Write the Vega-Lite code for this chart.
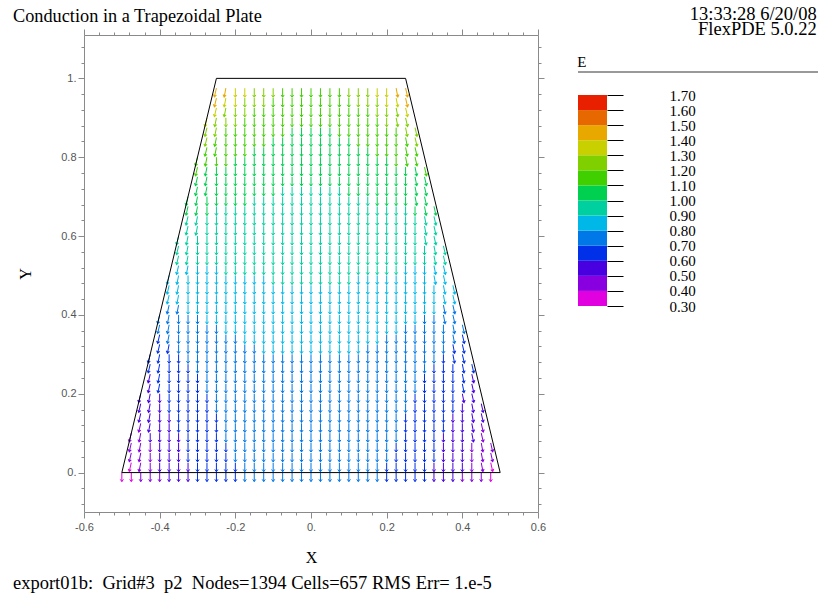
{
"$schema":"https://vega.github.io/schema/vega-lite/v6.json",
"background":"white",
"padding":{"left":12,"top":4,"right":2,"bottom":2},
"autosize":{"type":"pad"},
"config":{"view":{"stroke":null},"axis":{"domain":false,"grid":false,"tickColor":"#8a8a8a","labelColor":"#555555","labelFont":"Liberation Sans","labelFontSize":11,"titleFont":"Liberation Serif","titleFontSize":16,"titleFontWeight":"normal","titleColor":"black","labelOverlap":false,"labelFlush":false,"labelBound":false},"title":{"font":"Liberation Serif","fontWeight":"normal","color":"black"}},
"title":{"text":"export01b:\u00a0 Grid#3\u00a0 p2\u00a0 Nodes=1394 Cells=657 RMS Err= 1.e-5","orient":"bottom","anchor":"start","frame":"group","dx":-71,"offset":8,"fontSize":18.5,"baseline":"top"},
"bounds":"flush",
"spacing":40,
"hconcat":[
{"width":454,"height":477,"view":{"stroke":"#8a8a8a"},
"title":{"text":"Conduction in a Trapezoidal Plate","anchor":"start","frame":"group","dx":-71,"offset":-12,"fontSize":18.3,"baseline":"alphabetic"},
"layer":[
{"data":{"values":[
{"x":-0.5,"y":0,"e":0.35},{"x":-0.475,"y":0,"e":0.35},{"x":-0.45,"y":0,"e":0.45},{"x":-0.425,"y":0,"e":0.45},{"x":-0.4,"y":0,"e":0.45},{"x":-0.375,"y":0,"e":0.55},{"x":-0.35,"y":0,"e":0.55},{"x":-0.325,"y":0,"e":0.55},{"x":-0.3,"y":0,"e":0.65},{"x":-0.275,"y":0,"e":0.65},{"x":-0.25,"y":0,"e":0.65},{"x":-0.225,"y":0,"e":0.65},{"x":-0.2,"y":0,"e":0.65},{"x":-0.175,"y":0,"e":0.75},{"x":-0.15,"y":0,"e":0.75},{"x":-0.125,"y":0,"e":0.75},{"x":-0.1,"y":0,"e":0.75},{"x":-0.075,"y":0,"e":0.75},{"x":-0.05,"y":0,"e":0.75},{"x":-0.025,"y":0,"e":0.75},{"x":0,"y":0,"e":0.75},{"x":0.025,"y":0,"e":0.75},{"x":0.05,"y":0,"e":0.75},{"x":0.075,"y":0,"e":0.75},{"x":0.1,"y":0,"e":0.75},{"x":0.125,"y":0,"e":0.75},{"x":0.15,"y":0,"e":0.75},{"x":0.175,"y":0,"e":0.75},{"x":0.2,"y":0,"e":0.65},{"x":0.225,"y":0,"e":0.65},{"x":0.25,"y":0,"e":0.65},{"x":0.275,"y":0,"e":0.65},{"x":0.3,"y":0,"e":0.65},{"x":0.325,"y":0,"e":0.55},{"x":0.35,"y":0,"e":0.55},{"x":0.375,"y":0,"e":0.55},{"x":0.4,"y":0,"e":0.45},{"x":0.425,"y":0,"e":0.45},{"x":0.45,"y":0,"e":0.45},{"x":0.475,"y":0,"e":0.35},
{"x":-0.425,"y":0.025,"e":0.45},{"x":-0.4,"y":0.025,"e":0.55},{"x":-0.375,"y":0.025,"e":0.55},{"x":-0.35,"y":0.025,"e":0.55},{"x":-0.325,"y":0.025,"e":0.55},{"x":-0.3,"y":0.025,"e":0.65},{"x":-0.275,"y":0.025,"e":0.65},{"x":-0.25,"y":0.025,"e":0.65},{"x":-0.225,"y":0.025,"e":0.65},{"x":-0.2,"y":0.025,"e":0.65},{"x":-0.175,"y":0.025,"e":0.75},{"x":-0.15,"y":0.025,"e":0.75},{"x":-0.125,"y":0.025,"e":0.75},{"x":-0.1,"y":0.025,"e":0.75},{"x":-0.075,"y":0.025,"e":0.75},{"x":-0.05,"y":0.025,"e":0.75},{"x":-0.025,"y":0.025,"e":0.75},{"x":0,"y":0.025,"e":0.75},{"x":0.025,"y":0.025,"e":0.75},{"x":0.05,"y":0.025,"e":0.75},{"x":0.075,"y":0.025,"e":0.75},{"x":0.1,"y":0.025,"e":0.75},{"x":0.125,"y":0.025,"e":0.75},{"x":0.15,"y":0.025,"e":0.75},{"x":0.175,"y":0.025,"e":0.75},{"x":0.2,"y":0.025,"e":0.65},{"x":0.225,"y":0.025,"e":0.65},{"x":0.25,"y":0.025,"e":0.65},{"x":0.275,"y":0.025,"e":0.65},{"x":0.3,"y":0.025,"e":0.65},{"x":0.325,"y":0.025,"e":0.55},{"x":0.35,"y":0.025,"e":0.55},{"x":0.375,"y":0.025,"e":0.55},{"x":0.4,"y":0.025,"e":0.55},{"x":0.425,"y":0.025,"e":0.45},
{"x":-0.425,"y":0.05,"e":0.45},{"x":-0.4,"y":0.05,"e":0.55},{"x":-0.375,"y":0.05,"e":0.55},{"x":-0.35,"y":0.05,"e":0.55},{"x":-0.325,"y":0.05,"e":0.65},{"x":-0.3,"y":0.05,"e":0.65},{"x":-0.275,"y":0.05,"e":0.65},{"x":-0.25,"y":0.05,"e":0.65},{"x":-0.225,"y":0.05,"e":0.65},{"x":-0.2,"y":0.05,"e":0.75},{"x":-0.175,"y":0.05,"e":0.75},{"x":-0.15,"y":0.05,"e":0.75},{"x":-0.125,"y":0.05,"e":0.75},{"x":-0.1,"y":0.05,"e":0.75},{"x":-0.075,"y":0.05,"e":0.75},{"x":-0.05,"y":0.05,"e":0.75},{"x":-0.025,"y":0.05,"e":0.75},{"x":0,"y":0.05,"e":0.75},{"x":0.025,"y":0.05,"e":0.75},{"x":0.05,"y":0.05,"e":0.75},{"x":0.075,"y":0.05,"e":0.75},{"x":0.1,"y":0.05,"e":0.75},{"x":0.125,"y":0.05,"e":0.75},{"x":0.15,"y":0.05,"e":0.75},{"x":0.175,"y":0.05,"e":0.75},{"x":0.2,"y":0.05,"e":0.75},{"x":0.225,"y":0.05,"e":0.65},{"x":0.25,"y":0.05,"e":0.65},{"x":0.275,"y":0.05,"e":0.65},{"x":0.3,"y":0.05,"e":0.65},{"x":0.325,"y":0.05,"e":0.65},{"x":0.35,"y":0.05,"e":0.55},{"x":0.375,"y":0.05,"e":0.55},{"x":0.4,"y":0.05,"e":0.55},{"x":0.425,"y":0.05,"e":0.45},
{"x":-0.425,"y":0.075,"e":0.45},{"x":-0.4,"y":0.075,"e":0.55},{"x":-0.375,"y":0.075,"e":0.55},{"x":-0.35,"y":0.075,"e":0.55},{"x":-0.325,"y":0.075,"e":0.65},{"x":-0.3,"y":0.075,"e":0.65},{"x":-0.275,"y":0.075,"e":0.65},{"x":-0.25,"y":0.075,"e":0.65},{"x":-0.225,"y":0.075,"e":0.65},{"x":-0.2,"y":0.075,"e":0.75},{"x":-0.175,"y":0.075,"e":0.75},{"x":-0.15,"y":0.075,"e":0.75},{"x":-0.125,"y":0.075,"e":0.75},{"x":-0.1,"y":0.075,"e":0.75},{"x":-0.075,"y":0.075,"e":0.75},{"x":-0.05,"y":0.075,"e":0.75},{"x":-0.025,"y":0.075,"e":0.75},{"x":0,"y":0.075,"e":0.75},{"x":0.025,"y":0.075,"e":0.75},{"x":0.05,"y":0.075,"e":0.75},{"x":0.075,"y":0.075,"e":0.75},{"x":0.1,"y":0.075,"e":0.75},{"x":0.125,"y":0.075,"e":0.75},{"x":0.15,"y":0.075,"e":0.75},{"x":0.175,"y":0.075,"e":0.75},{"x":0.2,"y":0.075,"e":0.75},{"x":0.225,"y":0.075,"e":0.65},{"x":0.25,"y":0.075,"e":0.65},{"x":0.275,"y":0.075,"e":0.65},{"x":0.3,"y":0.075,"e":0.65},{"x":0.325,"y":0.075,"e":0.65},{"x":0.35,"y":0.075,"e":0.55},{"x":0.375,"y":0.075,"e":0.55},{"x":0.4,"y":0.075,"e":0.55},{"x":0.425,"y":0.075,"e":0.45},
{"x":-0.425,"y":0.1,"e":0.55},{"x":-0.4,"y":0.1,"e":0.55},{"x":-0.375,"y":0.1,"e":0.55},{"x":-0.35,"y":0.1,"e":0.55},{"x":-0.325,"y":0.1,"e":0.65},{"x":-0.3,"y":0.1,"e":0.65},{"x":-0.275,"y":0.1,"e":0.65},{"x":-0.25,"y":0.1,"e":0.65},{"x":-0.225,"y":0.1,"e":0.75},{"x":-0.2,"y":0.1,"e":0.75},{"x":-0.175,"y":0.1,"e":0.75},{"x":-0.15,"y":0.1,"e":0.75},{"x":-0.125,"y":0.1,"e":0.75},{"x":-0.1,"y":0.1,"e":0.75},{"x":-0.075,"y":0.1,"e":0.75},{"x":-0.05,"y":0.1,"e":0.75},{"x":-0.025,"y":0.1,"e":0.75},{"x":0,"y":0.1,"e":0.75},{"x":0.025,"y":0.1,"e":0.75},{"x":0.05,"y":0.1,"e":0.75},{"x":0.075,"y":0.1,"e":0.75},{"x":0.1,"y":0.1,"e":0.75},{"x":0.125,"y":0.1,"e":0.75},{"x":0.15,"y":0.1,"e":0.75},{"x":0.175,"y":0.1,"e":0.75},{"x":0.2,"y":0.1,"e":0.75},{"x":0.225,"y":0.1,"e":0.75},{"x":0.25,"y":0.1,"e":0.65},{"x":0.275,"y":0.1,"e":0.65},{"x":0.3,"y":0.1,"e":0.65},{"x":0.325,"y":0.1,"e":0.65},{"x":0.35,"y":0.1,"e":0.55},{"x":0.375,"y":0.1,"e":0.55},{"x":0.4,"y":0.1,"e":0.55},
{"x":-0.4,"y":0.125,"e":0.55},{"x":-0.375,"y":0.125,"e":0.55},{"x":-0.35,"y":0.125,"e":0.65},{"x":-0.325,"y":0.125,"e":0.65},{"x":-0.3,"y":0.125,"e":0.65},{"x":-0.275,"y":0.125,"e":0.65},{"x":-0.25,"y":0.125,"e":0.65},{"x":-0.225,"y":0.125,"e":0.75},{"x":-0.2,"y":0.125,"e":0.75},{"x":-0.175,"y":0.125,"e":0.75},{"x":-0.15,"y":0.125,"e":0.75},{"x":-0.125,"y":0.125,"e":0.75},{"x":-0.1,"y":0.125,"e":0.75},{"x":-0.075,"y":0.125,"e":0.75},{"x":-0.05,"y":0.125,"e":0.75},{"x":-0.025,"y":0.125,"e":0.75},{"x":0,"y":0.125,"e":0.75},{"x":0.025,"y":0.125,"e":0.75},{"x":0.05,"y":0.125,"e":0.75},{"x":0.075,"y":0.125,"e":0.75},{"x":0.1,"y":0.125,"e":0.75},{"x":0.125,"y":0.125,"e":0.75},{"x":0.15,"y":0.125,"e":0.75},{"x":0.175,"y":0.125,"e":0.75},{"x":0.2,"y":0.125,"e":0.75},{"x":0.225,"y":0.125,"e":0.75},{"x":0.25,"y":0.125,"e":0.65},{"x":0.275,"y":0.125,"e":0.65},{"x":0.3,"y":0.125,"e":0.65},{"x":0.325,"y":0.125,"e":0.65},{"x":0.35,"y":0.125,"e":0.65},{"x":0.375,"y":0.125,"e":0.55},{"x":0.4,"y":0.125,"e":0.55},
{"x":-0.4,"y":0.15,"e":0.55},{"x":-0.375,"y":0.15,"e":0.55},{"x":-0.35,"y":0.15,"e":0.65},{"x":-0.325,"y":0.15,"e":0.65},{"x":-0.3,"y":0.15,"e":0.65},{"x":-0.275,"y":0.15,"e":0.65},{"x":-0.25,"y":0.15,"e":0.65},{"x":-0.225,"y":0.15,"e":0.75},{"x":-0.2,"y":0.15,"e":0.75},{"x":-0.175,"y":0.15,"e":0.75},{"x":-0.15,"y":0.15,"e":0.75},{"x":-0.125,"y":0.15,"e":0.75},{"x":-0.1,"y":0.15,"e":0.75},{"x":-0.075,"y":0.15,"e":0.75},{"x":-0.05,"y":0.15,"e":0.75},{"x":-0.025,"y":0.15,"e":0.75},{"x":0,"y":0.15,"e":0.75},{"x":0.025,"y":0.15,"e":0.75},{"x":0.05,"y":0.15,"e":0.75},{"x":0.075,"y":0.15,"e":0.75},{"x":0.1,"y":0.15,"e":0.75},{"x":0.125,"y":0.15,"e":0.75},{"x":0.15,"y":0.15,"e":0.75},{"x":0.175,"y":0.15,"e":0.75},{"x":0.2,"y":0.15,"e":0.75},{"x":0.225,"y":0.15,"e":0.75},{"x":0.25,"y":0.15,"e":0.65},{"x":0.275,"y":0.15,"e":0.65},{"x":0.3,"y":0.15,"e":0.65},{"x":0.325,"y":0.15,"e":0.65},{"x":0.35,"y":0.15,"e":0.65},{"x":0.375,"y":0.15,"e":0.55},{"x":0.4,"y":0.15,"e":0.55},
{"x":-0.4,"y":0.175,"e":0.55},{"x":-0.375,"y":0.175,"e":0.65},{"x":-0.35,"y":0.175,"e":0.65},{"x":-0.325,"y":0.175,"e":0.65},{"x":-0.3,"y":0.175,"e":0.65},{"x":-0.275,"y":0.175,"e":0.65},{"x":-0.25,"y":0.175,"e":0.75},{"x":-0.225,"y":0.175,"e":0.75},{"x":-0.2,"y":0.175,"e":0.75},{"x":-0.175,"y":0.175,"e":0.75},{"x":-0.15,"y":0.175,"e":0.75},{"x":-0.125,"y":0.175,"e":0.75},{"x":-0.1,"y":0.175,"e":0.75},{"x":-0.075,"y":0.175,"e":0.75},{"x":-0.05,"y":0.175,"e":0.75},{"x":-0.025,"y":0.175,"e":0.75},{"x":0,"y":0.175,"e":0.75},{"x":0.025,"y":0.175,"e":0.75},{"x":0.05,"y":0.175,"e":0.75},{"x":0.075,"y":0.175,"e":0.75},{"x":0.1,"y":0.175,"e":0.75},{"x":0.125,"y":0.175,"e":0.75},{"x":0.15,"y":0.175,"e":0.75},{"x":0.175,"y":0.175,"e":0.75},{"x":0.2,"y":0.175,"e":0.75},{"x":0.225,"y":0.175,"e":0.75},{"x":0.25,"y":0.175,"e":0.75},{"x":0.275,"y":0.175,"e":0.65},{"x":0.3,"y":0.175,"e":0.65},{"x":0.325,"y":0.175,"e":0.65},{"x":0.35,"y":0.175,"e":0.65},{"x":0.375,"y":0.175,"e":0.65},{"x":0.4,"y":0.175,"e":0.55},
{"x":-0.4,"y":0.2,"e":0.55},{"x":-0.375,"y":0.2,"e":0.65},{"x":-0.35,"y":0.2,"e":0.65},{"x":-0.325,"y":0.2,"e":0.65},{"x":-0.3,"y":0.2,"e":0.65},{"x":-0.275,"y":0.2,"e":0.65},{"x":-0.25,"y":0.2,"e":0.75},{"x":-0.225,"y":0.2,"e":0.75},{"x":-0.2,"y":0.2,"e":0.75},{"x":-0.175,"y":0.2,"e":0.75},{"x":-0.15,"y":0.2,"e":0.75},{"x":-0.125,"y":0.2,"e":0.75},{"x":-0.1,"y":0.2,"e":0.75},{"x":-0.075,"y":0.2,"e":0.75},{"x":-0.05,"y":0.2,"e":0.75},{"x":-0.025,"y":0.2,"e":0.75},{"x":0,"y":0.2,"e":0.75},{"x":0.025,"y":0.2,"e":0.75},{"x":0.05,"y":0.2,"e":0.75},{"x":0.075,"y":0.2,"e":0.75},{"x":0.1,"y":0.2,"e":0.75},{"x":0.125,"y":0.2,"e":0.75},{"x":0.15,"y":0.2,"e":0.75},{"x":0.175,"y":0.2,"e":0.75},{"x":0.2,"y":0.2,"e":0.75},{"x":0.225,"y":0.2,"e":0.75},{"x":0.25,"y":0.2,"e":0.75},{"x":0.275,"y":0.2,"e":0.65},{"x":0.3,"y":0.2,"e":0.65},{"x":0.325,"y":0.2,"e":0.65},{"x":0.35,"y":0.2,"e":0.65},{"x":0.375,"y":0.2,"e":0.65},
{"x":-0.375,"y":0.225,"e":0.65},{"x":-0.35,"y":0.225,"e":0.65},{"x":-0.325,"y":0.225,"e":0.65},{"x":-0.3,"y":0.225,"e":0.65},{"x":-0.275,"y":0.225,"e":0.75},{"x":-0.25,"y":0.225,"e":0.75},{"x":-0.225,"y":0.225,"e":0.75},{"x":-0.2,"y":0.225,"e":0.75},{"x":-0.175,"y":0.225,"e":0.75},{"x":-0.15,"y":0.225,"e":0.75},{"x":-0.125,"y":0.225,"e":0.75},{"x":-0.1,"y":0.225,"e":0.75},{"x":-0.075,"y":0.225,"e":0.75},{"x":-0.05,"y":0.225,"e":0.75},{"x":-0.025,"y":0.225,"e":0.75},{"x":0,"y":0.225,"e":0.75},{"x":0.025,"y":0.225,"e":0.75},{"x":0.05,"y":0.225,"e":0.75},{"x":0.075,"y":0.225,"e":0.75},{"x":0.1,"y":0.225,"e":0.75},{"x":0.125,"y":0.225,"e":0.75},{"x":0.15,"y":0.225,"e":0.75},{"x":0.175,"y":0.225,"e":0.75},{"x":0.2,"y":0.225,"e":0.75},{"x":0.225,"y":0.225,"e":0.75},{"x":0.25,"y":0.225,"e":0.75},{"x":0.275,"y":0.225,"e":0.75},{"x":0.3,"y":0.225,"e":0.65},{"x":0.325,"y":0.225,"e":0.65},{"x":0.35,"y":0.225,"e":0.65},{"x":0.375,"y":0.225,"e":0.65},
{"x":-0.375,"y":0.25,"e":0.65},{"x":-0.35,"y":0.25,"e":0.65},{"x":-0.325,"y":0.25,"e":0.65},{"x":-0.3,"y":0.25,"e":0.65},{"x":-0.275,"y":0.25,"e":0.75},{"x":-0.25,"y":0.25,"e":0.75},{"x":-0.225,"y":0.25,"e":0.75},{"x":-0.2,"y":0.25,"e":0.75},{"x":-0.175,"y":0.25,"e":0.75},{"x":-0.15,"y":0.25,"e":0.75},{"x":-0.125,"y":0.25,"e":0.75},{"x":-0.1,"y":0.25,"e":0.75},{"x":-0.075,"y":0.25,"e":0.75},{"x":-0.05,"y":0.25,"e":0.75},{"x":-0.025,"y":0.25,"e":0.75},{"x":0,"y":0.25,"e":0.75},{"x":0.025,"y":0.25,"e":0.75},{"x":0.05,"y":0.25,"e":0.75},{"x":0.075,"y":0.25,"e":0.75},{"x":0.1,"y":0.25,"e":0.75},{"x":0.125,"y":0.25,"e":0.75},{"x":0.15,"y":0.25,"e":0.75},{"x":0.175,"y":0.25,"e":0.75},{"x":0.2,"y":0.25,"e":0.75},{"x":0.225,"y":0.25,"e":0.75},{"x":0.25,"y":0.25,"e":0.75},{"x":0.275,"y":0.25,"e":0.75},{"x":0.3,"y":0.25,"e":0.65},{"x":0.325,"y":0.25,"e":0.65},{"x":0.35,"y":0.25,"e":0.65},{"x":0.375,"y":0.25,"e":0.65},
{"x":-0.375,"y":0.275,"e":0.65},{"x":-0.35,"y":0.275,"e":0.65},{"x":-0.325,"y":0.275,"e":0.65},{"x":-0.3,"y":0.275,"e":0.75},{"x":-0.275,"y":0.275,"e":0.75},{"x":-0.25,"y":0.275,"e":0.75},{"x":-0.225,"y":0.275,"e":0.75},{"x":-0.2,"y":0.275,"e":0.75},{"x":-0.175,"y":0.275,"e":0.75},{"x":-0.15,"y":0.275,"e":0.75},{"x":-0.125,"y":0.275,"e":0.75},{"x":-0.1,"y":0.275,"e":0.75},{"x":-0.075,"y":0.275,"e":0.75},{"x":-0.05,"y":0.275,"e":0.75},{"x":-0.025,"y":0.275,"e":0.75},{"x":0,"y":0.275,"e":0.75},{"x":0.025,"y":0.275,"e":0.75},{"x":0.05,"y":0.275,"e":0.75},{"x":0.075,"y":0.275,"e":0.75},{"x":0.1,"y":0.275,"e":0.75},{"x":0.125,"y":0.275,"e":0.75},{"x":0.15,"y":0.275,"e":0.75},{"x":0.175,"y":0.275,"e":0.75},{"x":0.2,"y":0.275,"e":0.75},{"x":0.225,"y":0.275,"e":0.75},{"x":0.25,"y":0.275,"e":0.75},{"x":0.275,"y":0.275,"e":0.75},{"x":0.3,"y":0.275,"e":0.75},{"x":0.325,"y":0.275,"e":0.65},{"x":0.35,"y":0.275,"e":0.65},{"x":0.375,"y":0.275,"e":0.65},
{"x":-0.375,"y":0.3,"e":0.65},{"x":-0.35,"y":0.3,"e":0.65},{"x":-0.325,"y":0.3,"e":0.75},{"x":-0.3,"y":0.3,"e":0.75},{"x":-0.275,"y":0.3,"e":0.75},{"x":-0.25,"y":0.3,"e":0.75},{"x":-0.225,"y":0.3,"e":0.75},{"x":-0.2,"y":0.3,"e":0.75},{"x":-0.175,"y":0.3,"e":0.75},{"x":-0.15,"y":0.3,"e":0.75},{"x":-0.125,"y":0.3,"e":0.75},{"x":-0.1,"y":0.3,"e":0.75},{"x":-0.075,"y":0.3,"e":0.75},{"x":-0.05,"y":0.3,"e":0.75},{"x":-0.025,"y":0.3,"e":0.75},{"x":0,"y":0.3,"e":0.75},{"x":0.025,"y":0.3,"e":0.75},{"x":0.05,"y":0.3,"e":0.75},{"x":0.075,"y":0.3,"e":0.75},{"x":0.1,"y":0.3,"e":0.75},{"x":0.125,"y":0.3,"e":0.75},{"x":0.15,"y":0.3,"e":0.75},{"x":0.175,"y":0.3,"e":0.75},{"x":0.2,"y":0.3,"e":0.75},{"x":0.225,"y":0.3,"e":0.75},{"x":0.25,"y":0.3,"e":0.75},{"x":0.275,"y":0.3,"e":0.75},{"x":0.3,"y":0.3,"e":0.75},{"x":0.325,"y":0.3,"e":0.75},{"x":0.35,"y":0.3,"e":0.65},
{"x":-0.35,"y":0.325,"e":0.75},{"x":-0.325,"y":0.325,"e":0.75},{"x":-0.3,"y":0.325,"e":0.75},{"x":-0.275,"y":0.325,"e":0.75},{"x":-0.25,"y":0.325,"e":0.75},{"x":-0.225,"y":0.325,"e":0.75},{"x":-0.2,"y":0.325,"e":0.75},{"x":-0.175,"y":0.325,"e":0.75},{"x":-0.15,"y":0.325,"e":0.75},{"x":-0.125,"y":0.325,"e":0.85},{"x":-0.1,"y":0.325,"e":0.85},{"x":-0.075,"y":0.325,"e":0.85},{"x":-0.05,"y":0.325,"e":0.85},{"x":-0.025,"y":0.325,"e":0.85},{"x":0,"y":0.325,"e":0.85},{"x":0.025,"y":0.325,"e":0.85},{"x":0.05,"y":0.325,"e":0.85},{"x":0.075,"y":0.325,"e":0.85},{"x":0.1,"y":0.325,"e":0.85},{"x":0.125,"y":0.325,"e":0.85},{"x":0.15,"y":0.325,"e":0.75},{"x":0.175,"y":0.325,"e":0.75},{"x":0.2,"y":0.325,"e":0.75},{"x":0.225,"y":0.325,"e":0.75},{"x":0.25,"y":0.325,"e":0.75},{"x":0.275,"y":0.325,"e":0.75},{"x":0.3,"y":0.325,"e":0.75},{"x":0.325,"y":0.325,"e":0.75},{"x":0.35,"y":0.325,"e":0.75},
{"x":-0.35,"y":0.35,"e":0.75},{"x":-0.325,"y":0.35,"e":0.75},{"x":-0.3,"y":0.35,"e":0.75},{"x":-0.275,"y":0.35,"e":0.75},{"x":-0.25,"y":0.35,"e":0.75},{"x":-0.225,"y":0.35,"e":0.75},{"x":-0.2,"y":0.35,"e":0.75},{"x":-0.175,"y":0.35,"e":0.85},{"x":-0.15,"y":0.35,"e":0.85},{"x":-0.125,"y":0.35,"e":0.85},{"x":-0.1,"y":0.35,"e":0.85},{"x":-0.075,"y":0.35,"e":0.85},{"x":-0.05,"y":0.35,"e":0.85},{"x":-0.025,"y":0.35,"e":0.85},{"x":0,"y":0.35,"e":0.85},{"x":0.025,"y":0.35,"e":0.85},{"x":0.05,"y":0.35,"e":0.85},{"x":0.075,"y":0.35,"e":0.85},{"x":0.1,"y":0.35,"e":0.85},{"x":0.125,"y":0.35,"e":0.85},{"x":0.15,"y":0.35,"e":0.85},{"x":0.175,"y":0.35,"e":0.85},{"x":0.2,"y":0.35,"e":0.75},{"x":0.225,"y":0.35,"e":0.75},{"x":0.25,"y":0.35,"e":0.75},{"x":0.275,"y":0.35,"e":0.75},{"x":0.3,"y":0.35,"e":0.75},{"x":0.325,"y":0.35,"e":0.75},{"x":0.35,"y":0.35,"e":0.75},
{"x":-0.35,"y":0.375,"e":0.75},{"x":-0.325,"y":0.375,"e":0.75},{"x":-0.3,"y":0.375,"e":0.75},{"x":-0.275,"y":0.375,"e":0.75},{"x":-0.25,"y":0.375,"e":0.75},{"x":-0.225,"y":0.375,"e":0.85},{"x":-0.2,"y":0.375,"e":0.85},{"x":-0.175,"y":0.375,"e":0.85},{"x":-0.15,"y":0.375,"e":0.85},{"x":-0.125,"y":0.375,"e":0.85},{"x":-0.1,"y":0.375,"e":0.85},{"x":-0.075,"y":0.375,"e":0.85},{"x":-0.05,"y":0.375,"e":0.85},{"x":-0.025,"y":0.375,"e":0.85},{"x":0,"y":0.375,"e":0.85},{"x":0.025,"y":0.375,"e":0.85},{"x":0.05,"y":0.375,"e":0.85},{"x":0.075,"y":0.375,"e":0.85},{"x":0.1,"y":0.375,"e":0.85},{"x":0.125,"y":0.375,"e":0.85},{"x":0.15,"y":0.375,"e":0.85},{"x":0.175,"y":0.375,"e":0.85},{"x":0.2,"y":0.375,"e":0.85},{"x":0.225,"y":0.375,"e":0.85},{"x":0.25,"y":0.375,"e":0.75},{"x":0.275,"y":0.375,"e":0.75},{"x":0.3,"y":0.375,"e":0.75},{"x":0.325,"y":0.375,"e":0.75},{"x":0.35,"y":0.375,"e":0.75},
{"x":-0.35,"y":0.4,"e":0.75},{"x":-0.325,"y":0.4,"e":0.75},{"x":-0.3,"y":0.4,"e":0.75},{"x":-0.275,"y":0.4,"e":0.85},{"x":-0.25,"y":0.4,"e":0.85},{"x":-0.225,"y":0.4,"e":0.85},{"x":-0.2,"y":0.4,"e":0.85},{"x":-0.175,"y":0.4,"e":0.85},{"x":-0.15,"y":0.4,"e":0.85},{"x":-0.125,"y":0.4,"e":0.85},{"x":-0.1,"y":0.4,"e":0.85},{"x":-0.075,"y":0.4,"e":0.85},{"x":-0.05,"y":0.4,"e":0.85},{"x":-0.025,"y":0.4,"e":0.85},{"x":0,"y":0.4,"e":0.85},{"x":0.025,"y":0.4,"e":0.85},{"x":0.05,"y":0.4,"e":0.85},{"x":0.075,"y":0.4,"e":0.85},{"x":0.1,"y":0.4,"e":0.85},{"x":0.125,"y":0.4,"e":0.85},{"x":0.15,"y":0.4,"e":0.85},{"x":0.175,"y":0.4,"e":0.85},{"x":0.2,"y":0.4,"e":0.85},{"x":0.225,"y":0.4,"e":0.85},{"x":0.25,"y":0.4,"e":0.85},{"x":0.275,"y":0.4,"e":0.85},{"x":0.3,"y":0.4,"e":0.75},{"x":0.325,"y":0.4,"e":0.75},
{"x":-0.325,"y":0.425,"e":0.85},{"x":-0.3,"y":0.425,"e":0.85},{"x":-0.275,"y":0.425,"e":0.85},{"x":-0.25,"y":0.425,"e":0.85},{"x":-0.225,"y":0.425,"e":0.85},{"x":-0.2,"y":0.425,"e":0.85},{"x":-0.175,"y":0.425,"e":0.85},{"x":-0.15,"y":0.425,"e":0.85},{"x":-0.125,"y":0.425,"e":0.85},{"x":-0.1,"y":0.425,"e":0.85},{"x":-0.075,"y":0.425,"e":0.85},{"x":-0.05,"y":0.425,"e":0.85},{"x":-0.025,"y":0.425,"e":0.85},{"x":0,"y":0.425,"e":0.85},{"x":0.025,"y":0.425,"e":0.85},{"x":0.05,"y":0.425,"e":0.85},{"x":0.075,"y":0.425,"e":0.85},{"x":0.1,"y":0.425,"e":0.85},{"x":0.125,"y":0.425,"e":0.85},{"x":0.15,"y":0.425,"e":0.85},{"x":0.175,"y":0.425,"e":0.85},{"x":0.2,"y":0.425,"e":0.85},{"x":0.225,"y":0.425,"e":0.85},{"x":0.25,"y":0.425,"e":0.85},{"x":0.275,"y":0.425,"e":0.85},{"x":0.3,"y":0.425,"e":0.85},{"x":0.325,"y":0.425,"e":0.85},
{"x":-0.325,"y":0.45,"e":0.85},{"x":-0.3,"y":0.45,"e":0.85},{"x":-0.275,"y":0.45,"e":0.85},{"x":-0.25,"y":0.45,"e":0.85},{"x":-0.225,"y":0.45,"e":0.85},{"x":-0.2,"y":0.45,"e":0.85},{"x":-0.175,"y":0.45,"e":0.85},{"x":-0.15,"y":0.45,"e":0.85},{"x":-0.125,"y":0.45,"e":0.85},{"x":-0.1,"y":0.45,"e":0.85},{"x":-0.075,"y":0.45,"e":0.85},{"x":-0.05,"y":0.45,"e":0.85},{"x":-0.025,"y":0.45,"e":0.85},{"x":0,"y":0.45,"e":0.85},{"x":0.025,"y":0.45,"e":0.85},{"x":0.05,"y":0.45,"e":0.85},{"x":0.075,"y":0.45,"e":0.85},{"x":0.1,"y":0.45,"e":0.85},{"x":0.125,"y":0.45,"e":0.85},{"x":0.15,"y":0.45,"e":0.85},{"x":0.175,"y":0.45,"e":0.85},{"x":0.2,"y":0.45,"e":0.85},{"x":0.225,"y":0.45,"e":0.85},{"x":0.25,"y":0.45,"e":0.85},{"x":0.275,"y":0.45,"e":0.85},{"x":0.3,"y":0.45,"e":0.85},{"x":0.325,"y":0.45,"e":0.85},
{"x":-0.325,"y":0.475,"e":0.85},{"x":-0.3,"y":0.475,"e":0.85},{"x":-0.275,"y":0.475,"e":0.85},{"x":-0.25,"y":0.475,"e":0.85},{"x":-0.225,"y":0.475,"e":0.85},{"x":-0.2,"y":0.475,"e":0.85},{"x":-0.175,"y":0.475,"e":0.85},{"x":-0.15,"y":0.475,"e":0.85},{"x":-0.125,"y":0.475,"e":0.85},{"x":-0.1,"y":0.475,"e":0.85},{"x":-0.075,"y":0.475,"e":0.85},{"x":-0.05,"y":0.475,"e":0.85},{"x":-0.025,"y":0.475,"e":0.85},{"x":0,"y":0.475,"e":0.85},{"x":0.025,"y":0.475,"e":0.85},{"x":0.05,"y":0.475,"e":0.85},{"x":0.075,"y":0.475,"e":0.85},{"x":0.1,"y":0.475,"e":0.85},{"x":0.125,"y":0.475,"e":0.85},{"x":0.15,"y":0.475,"e":0.85},{"x":0.175,"y":0.475,"e":0.85},{"x":0.2,"y":0.475,"e":0.85},{"x":0.225,"y":0.475,"e":0.85},{"x":0.25,"y":0.475,"e":0.85},{"x":0.275,"y":0.475,"e":0.85},{"x":0.3,"y":0.475,"e":0.85},{"x":0.325,"y":0.475,"e":0.85},
{"x":-0.325,"y":0.5,"e":0.85},{"x":-0.3,"y":0.5,"e":0.85},{"x":-0.275,"y":0.5,"e":0.85},{"x":-0.25,"y":0.5,"e":0.85},{"x":-0.225,"y":0.5,"e":0.85},{"x":-0.2,"y":0.5,"e":0.85},{"x":-0.175,"y":0.5,"e":0.85},{"x":-0.15,"y":0.5,"e":0.85},{"x":-0.125,"y":0.5,"e":0.85},{"x":-0.1,"y":0.5,"e":0.95},{"x":-0.075,"y":0.5,"e":0.95},{"x":-0.05,"y":0.5,"e":0.95},{"x":-0.025,"y":0.5,"e":0.95},{"x":0,"y":0.5,"e":0.95},{"x":0.025,"y":0.5,"e":0.95},{"x":0.05,"y":0.5,"e":0.95},{"x":0.075,"y":0.5,"e":0.95},{"x":0.1,"y":0.5,"e":0.95},{"x":0.125,"y":0.5,"e":0.85},{"x":0.15,"y":0.5,"e":0.85},{"x":0.175,"y":0.5,"e":0.85},{"x":0.2,"y":0.5,"e":0.85},{"x":0.225,"y":0.5,"e":0.85},{"x":0.25,"y":0.5,"e":0.85},{"x":0.275,"y":0.5,"e":0.85},{"x":0.3,"y":0.5,"e":0.85},
{"x":-0.3,"y":0.525,"e":0.85},{"x":-0.275,"y":0.525,"e":0.85},{"x":-0.25,"y":0.525,"e":0.85},{"x":-0.225,"y":0.525,"e":0.95},{"x":-0.2,"y":0.525,"e":0.95},{"x":-0.175,"y":0.525,"e":0.95},{"x":-0.15,"y":0.525,"e":0.95},{"x":-0.125,"y":0.525,"e":0.95},{"x":-0.1,"y":0.525,"e":0.95},{"x":-0.075,"y":0.525,"e":0.95},{"x":-0.05,"y":0.525,"e":0.95},{"x":-0.025,"y":0.525,"e":0.95},{"x":0,"y":0.525,"e":0.95},{"x":0.025,"y":0.525,"e":0.95},{"x":0.05,"y":0.525,"e":0.95},{"x":0.075,"y":0.525,"e":0.95},{"x":0.1,"y":0.525,"e":0.95},{"x":0.125,"y":0.525,"e":0.95},{"x":0.15,"y":0.525,"e":0.95},{"x":0.175,"y":0.525,"e":0.95},{"x":0.2,"y":0.525,"e":0.95},{"x":0.225,"y":0.525,"e":0.95},{"x":0.25,"y":0.525,"e":0.85},{"x":0.275,"y":0.525,"e":0.85},{"x":0.3,"y":0.525,"e":0.85},
{"x":-0.3,"y":0.55,"e":0.95},{"x":-0.275,"y":0.55,"e":0.95},{"x":-0.25,"y":0.55,"e":0.95},{"x":-0.225,"y":0.55,"e":0.95},{"x":-0.2,"y":0.55,"e":0.95},{"x":-0.175,"y":0.55,"e":0.95},{"x":-0.15,"y":0.55,"e":0.95},{"x":-0.125,"y":0.55,"e":0.95},{"x":-0.1,"y":0.55,"e":0.95},{"x":-0.075,"y":0.55,"e":0.95},{"x":-0.05,"y":0.55,"e":0.95},{"x":-0.025,"y":0.55,"e":0.95},{"x":0,"y":0.55,"e":0.95},{"x":0.025,"y":0.55,"e":0.95},{"x":0.05,"y":0.55,"e":0.95},{"x":0.075,"y":0.55,"e":0.95},{"x":0.1,"y":0.55,"e":0.95},{"x":0.125,"y":0.55,"e":0.95},{"x":0.15,"y":0.55,"e":0.95},{"x":0.175,"y":0.55,"e":0.95},{"x":0.2,"y":0.55,"e":0.95},{"x":0.225,"y":0.55,"e":0.95},{"x":0.25,"y":0.55,"e":0.95},{"x":0.275,"y":0.55,"e":0.95},{"x":0.3,"y":0.55,"e":0.95},
{"x":-0.3,"y":0.575,"e":0.95},{"x":-0.275,"y":0.575,"e":0.95},{"x":-0.25,"y":0.575,"e":0.95},{"x":-0.225,"y":0.575,"e":0.95},{"x":-0.2,"y":0.575,"e":0.95},{"x":-0.175,"y":0.575,"e":0.95},{"x":-0.15,"y":0.575,"e":0.95},{"x":-0.125,"y":0.575,"e":0.95},{"x":-0.1,"y":0.575,"e":0.95},{"x":-0.075,"y":0.575,"e":0.95},{"x":-0.05,"y":0.575,"e":0.95},{"x":-0.025,"y":0.575,"e":0.95},{"x":0,"y":0.575,"e":0.95},{"x":0.025,"y":0.575,"e":0.95},{"x":0.05,"y":0.575,"e":0.95},{"x":0.075,"y":0.575,"e":0.95},{"x":0.1,"y":0.575,"e":0.95},{"x":0.125,"y":0.575,"e":0.95},{"x":0.15,"y":0.575,"e":0.95},{"x":0.175,"y":0.575,"e":0.95},{"x":0.2,"y":0.575,"e":0.95},{"x":0.225,"y":0.575,"e":0.95},{"x":0.25,"y":0.575,"e":0.95},{"x":0.275,"y":0.575,"e":0.95},{"x":0.3,"y":0.575,"e":0.95},
{"x":-0.3,"y":0.6,"e":0.95},{"x":-0.275,"y":0.6,"e":0.95},{"x":-0.25,"y":0.6,"e":0.95},{"x":-0.225,"y":0.6,"e":0.95},{"x":-0.2,"y":0.6,"e":0.95},{"x":-0.175,"y":0.6,"e":0.95},{"x":-0.15,"y":0.6,"e":0.95},{"x":-0.125,"y":0.6,"e":0.95},{"x":-0.1,"y":0.6,"e":0.95},{"x":-0.075,"y":0.6,"e":0.95},{"x":-0.05,"y":0.6,"e":0.95},{"x":-0.025,"y":0.6,"e":0.95},{"x":0,"y":0.6,"e":0.95},{"x":0.025,"y":0.6,"e":0.95},{"x":0.05,"y":0.6,"e":0.95},{"x":0.075,"y":0.6,"e":0.95},{"x":0.1,"y":0.6,"e":0.95},{"x":0.125,"y":0.6,"e":0.95},{"x":0.15,"y":0.6,"e":0.95},{"x":0.175,"y":0.6,"e":0.95},{"x":0.2,"y":0.6,"e":0.95},{"x":0.225,"y":0.6,"e":0.95},{"x":0.25,"y":0.6,"e":0.95},{"x":0.275,"y":0.6,"e":0.95},
{"x":-0.275,"y":0.625,"e":0.95},{"x":-0.25,"y":0.625,"e":0.95},{"x":-0.225,"y":0.625,"e":0.95},{"x":-0.2,"y":0.625,"e":0.95},{"x":-0.175,"y":0.625,"e":0.95},{"x":-0.15,"y":0.625,"e":0.95},{"x":-0.125,"y":0.625,"e":0.95},{"x":-0.1,"y":0.625,"e":0.95},{"x":-0.075,"y":0.625,"e":0.95},{"x":-0.05,"y":0.625,"e":0.95},{"x":-0.025,"y":0.625,"e":0.95},{"x":0,"y":0.625,"e":0.95},{"x":0.025,"y":0.625,"e":0.95},{"x":0.05,"y":0.625,"e":0.95},{"x":0.075,"y":0.625,"e":0.95},{"x":0.1,"y":0.625,"e":0.95},{"x":0.125,"y":0.625,"e":0.95},{"x":0.15,"y":0.625,"e":0.95},{"x":0.175,"y":0.625,"e":0.95},{"x":0.2,"y":0.625,"e":0.95},{"x":0.225,"y":0.625,"e":0.95},{"x":0.25,"y":0.625,"e":0.95},{"x":0.275,"y":0.625,"e":0.95},
{"x":-0.275,"y":0.65,"e":0.95},{"x":-0.25,"y":0.65,"e":0.95},{"x":-0.225,"y":0.65,"e":0.95},{"x":-0.2,"y":0.65,"e":0.95},{"x":-0.175,"y":0.65,"e":0.95},{"x":-0.15,"y":0.65,"e":0.95},{"x":-0.125,"y":0.65,"e":0.95},{"x":-0.1,"y":0.65,"e":0.95},{"x":-0.075,"y":0.65,"e":0.95},{"x":-0.05,"y":0.65,"e":0.95},{"x":-0.025,"y":0.65,"e":0.95},{"x":0,"y":0.65,"e":0.95},{"x":0.025,"y":0.65,"e":0.95},{"x":0.05,"y":0.65,"e":0.95},{"x":0.075,"y":0.65,"e":0.95},{"x":0.1,"y":0.65,"e":0.95},{"x":0.125,"y":0.65,"e":0.95},{"x":0.15,"y":0.65,"e":0.95},{"x":0.175,"y":0.65,"e":0.95},{"x":0.2,"y":0.65,"e":0.95},{"x":0.225,"y":0.65,"e":0.95},{"x":0.25,"y":0.65,"e":0.95},{"x":0.275,"y":0.65,"e":0.95},
{"x":-0.275,"y":0.675,"e":1.05},{"x":-0.25,"y":0.675,"e":0.95},{"x":-0.225,"y":0.675,"e":0.95},{"x":-0.2,"y":0.675,"e":0.95},{"x":-0.175,"y":0.675,"e":0.95},{"x":-0.15,"y":0.675,"e":0.95},{"x":-0.125,"y":0.675,"e":0.95},{"x":-0.1,"y":0.675,"e":0.95},{"x":-0.075,"y":0.675,"e":0.95},{"x":-0.05,"y":0.675,"e":0.95},{"x":-0.025,"y":0.675,"e":0.95},{"x":0,"y":0.675,"e":0.95},{"x":0.025,"y":0.675,"e":0.95},{"x":0.05,"y":0.675,"e":0.95},{"x":0.075,"y":0.675,"e":0.95},{"x":0.1,"y":0.675,"e":0.95},{"x":0.125,"y":0.675,"e":0.95},{"x":0.15,"y":0.675,"e":0.95},{"x":0.175,"y":0.675,"e":0.95},{"x":0.2,"y":0.675,"e":0.95},{"x":0.225,"y":0.675,"e":0.95},{"x":0.25,"y":0.675,"e":0.95},{"x":0.275,"y":0.675,"e":1.05},
{"x":-0.275,"y":0.7,"e":1.05},{"x":-0.25,"y":0.7,"e":1.05},{"x":-0.225,"y":0.7,"e":1.05},{"x":-0.2,"y":0.7,"e":1.05},{"x":-0.175,"y":0.7,"e":1.05},{"x":-0.15,"y":0.7,"e":0.95},{"x":-0.125,"y":0.7,"e":0.95},{"x":-0.1,"y":0.7,"e":0.95},{"x":-0.075,"y":0.7,"e":0.95},{"x":-0.05,"y":0.7,"e":0.95},{"x":-0.025,"y":0.7,"e":0.95},{"x":0,"y":0.7,"e":0.95},{"x":0.025,"y":0.7,"e":0.95},{"x":0.05,"y":0.7,"e":0.95},{"x":0.075,"y":0.7,"e":0.95},{"x":0.1,"y":0.7,"e":0.95},{"x":0.125,"y":0.7,"e":0.95},{"x":0.15,"y":0.7,"e":0.95},{"x":0.175,"y":0.7,"e":1.05},{"x":0.2,"y":0.7,"e":1.05},{"x":0.225,"y":0.7,"e":1.05},{"x":0.25,"y":0.7,"e":1.05},
{"x":-0.25,"y":0.725,"e":1.05},{"x":-0.225,"y":0.725,"e":1.05},{"x":-0.2,"y":0.725,"e":1.05},{"x":-0.175,"y":0.725,"e":1.05},{"x":-0.15,"y":0.725,"e":1.05},{"x":-0.125,"y":0.725,"e":1.05},{"x":-0.1,"y":0.725,"e":1.05},{"x":-0.075,"y":0.725,"e":0.95},{"x":-0.05,"y":0.725,"e":0.95},{"x":-0.025,"y":0.725,"e":0.95},{"x":0,"y":0.725,"e":0.95},{"x":0.025,"y":0.725,"e":0.95},{"x":0.05,"y":0.725,"e":0.95},{"x":0.075,"y":0.725,"e":0.95},{"x":0.1,"y":0.725,"e":1.05},{"x":0.125,"y":0.725,"e":1.05},{"x":0.15,"y":0.725,"e":1.05},{"x":0.175,"y":0.725,"e":1.05},{"x":0.2,"y":0.725,"e":1.05},{"x":0.225,"y":0.725,"e":1.05},{"x":0.25,"y":0.725,"e":1.05},
{"x":-0.25,"y":0.75,"e":1.05},{"x":-0.225,"y":0.75,"e":1.05},{"x":-0.2,"y":0.75,"e":1.05},{"x":-0.175,"y":0.75,"e":1.05},{"x":-0.15,"y":0.75,"e":1.05},{"x":-0.125,"y":0.75,"e":1.05},{"x":-0.1,"y":0.75,"e":1.05},{"x":-0.075,"y":0.75,"e":1.05},{"x":-0.05,"y":0.75,"e":1.05},{"x":-0.025,"y":0.75,"e":1.05},{"x":0,"y":0.75,"e":1.05},{"x":0.025,"y":0.75,"e":1.05},{"x":0.05,"y":0.75,"e":1.05},{"x":0.075,"y":0.75,"e":1.05},{"x":0.1,"y":0.75,"e":1.05},{"x":0.125,"y":0.75,"e":1.05},{"x":0.15,"y":0.75,"e":1.05},{"x":0.175,"y":0.75,"e":1.05},{"x":0.2,"y":0.75,"e":1.05},{"x":0.225,"y":0.75,"e":1.05},{"x":0.25,"y":0.75,"e":1.05},
{"x":-0.25,"y":0.775,"e":1.05},{"x":-0.225,"y":0.775,"e":1.05},{"x":-0.2,"y":0.775,"e":1.05},{"x":-0.175,"y":0.775,"e":1.05},{"x":-0.15,"y":0.775,"e":1.05},{"x":-0.125,"y":0.775,"e":1.05},{"x":-0.1,"y":0.775,"e":1.05},{"x":-0.075,"y":0.775,"e":1.05},{"x":-0.05,"y":0.775,"e":1.05},{"x":-0.025,"y":0.775,"e":1.05},{"x":0,"y":0.775,"e":1.05},{"x":0.025,"y":0.775,"e":1.05},{"x":0.05,"y":0.775,"e":1.05},{"x":0.075,"y":0.775,"e":1.05},{"x":0.1,"y":0.775,"e":1.05},{"x":0.125,"y":0.775,"e":1.05},{"x":0.15,"y":0.775,"e":1.05},{"x":0.175,"y":0.775,"e":1.05},{"x":0.2,"y":0.775,"e":1.05},{"x":0.225,"y":0.775,"e":1.05},{"x":0.25,"y":0.775,"e":1.05},
{"x":-0.25,"y":0.8,"e":1.15},{"x":-0.225,"y":0.8,"e":1.15},{"x":-0.2,"y":0.8,"e":1.05},{"x":-0.175,"y":0.8,"e":1.05},{"x":-0.15,"y":0.8,"e":1.05},{"x":-0.125,"y":0.8,"e":1.05},{"x":-0.1,"y":0.8,"e":1.05},{"x":-0.075,"y":0.8,"e":1.05},{"x":-0.05,"y":0.8,"e":1.05},{"x":-0.025,"y":0.8,"e":1.05},{"x":0,"y":0.8,"e":1.05},{"x":0.025,"y":0.8,"e":1.05},{"x":0.05,"y":0.8,"e":1.05},{"x":0.075,"y":0.8,"e":1.05},{"x":0.1,"y":0.8,"e":1.05},{"x":0.125,"y":0.8,"e":1.05},{"x":0.15,"y":0.8,"e":1.05},{"x":0.175,"y":0.8,"e":1.05},{"x":0.2,"y":0.8,"e":1.05},{"x":0.225,"y":0.8,"e":1.15},
{"x":-0.225,"y":0.825,"e":1.15},{"x":-0.2,"y":0.825,"e":1.15},{"x":-0.175,"y":0.825,"e":1.15},{"x":-0.15,"y":0.825,"e":1.05},{"x":-0.125,"y":0.825,"e":1.05},{"x":-0.1,"y":0.825,"e":1.05},{"x":-0.075,"y":0.825,"e":1.05},{"x":-0.05,"y":0.825,"e":1.05},{"x":-0.025,"y":0.825,"e":1.05},{"x":0,"y":0.825,"e":1.05},{"x":0.025,"y":0.825,"e":1.05},{"x":0.05,"y":0.825,"e":1.05},{"x":0.075,"y":0.825,"e":1.05},{"x":0.1,"y":0.825,"e":1.05},{"x":0.125,"y":0.825,"e":1.05},{"x":0.15,"y":0.825,"e":1.05},{"x":0.175,"y":0.825,"e":1.15},{"x":0.2,"y":0.825,"e":1.15},{"x":0.225,"y":0.825,"e":1.15},
{"x":-0.225,"y":0.85,"e":1.15},{"x":-0.2,"y":0.85,"e":1.15},{"x":-0.175,"y":0.85,"e":1.15},{"x":-0.15,"y":0.85,"e":1.15},{"x":-0.125,"y":0.85,"e":1.15},{"x":-0.1,"y":0.85,"e":1.05},{"x":-0.075,"y":0.85,"e":1.05},{"x":-0.05,"y":0.85,"e":1.05},{"x":-0.025,"y":0.85,"e":1.05},{"x":0,"y":0.85,"e":1.05},{"x":0.025,"y":0.85,"e":1.05},{"x":0.05,"y":0.85,"e":1.05},{"x":0.075,"y":0.85,"e":1.05},{"x":0.1,"y":0.85,"e":1.05},{"x":0.125,"y":0.85,"e":1.15},{"x":0.15,"y":0.85,"e":1.15},{"x":0.175,"y":0.85,"e":1.15},{"x":0.2,"y":0.85,"e":1.15},{"x":0.225,"y":0.85,"e":1.15},
{"x":-0.225,"y":0.875,"e":1.15},{"x":-0.2,"y":0.875,"e":1.15},{"x":-0.175,"y":0.875,"e":1.15},{"x":-0.15,"y":0.875,"e":1.15},{"x":-0.125,"y":0.875,"e":1.15},{"x":-0.1,"y":0.875,"e":1.15},{"x":-0.075,"y":0.875,"e":1.15},{"x":-0.05,"y":0.875,"e":1.05},{"x":-0.025,"y":0.875,"e":1.05},{"x":0,"y":0.875,"e":1.05},{"x":0.025,"y":0.875,"e":1.05},{"x":0.05,"y":0.875,"e":1.05},{"x":0.075,"y":0.875,"e":1.15},{"x":0.1,"y":0.875,"e":1.15},{"x":0.125,"y":0.875,"e":1.15},{"x":0.15,"y":0.875,"e":1.15},{"x":0.175,"y":0.875,"e":1.15},{"x":0.2,"y":0.875,"e":1.15},{"x":0.225,"y":0.875,"e":1.15},
{"x":-0.225,"y":0.9,"e":1.25},{"x":-0.2,"y":0.9,"e":1.25},{"x":-0.175,"y":0.9,"e":1.15},{"x":-0.15,"y":0.9,"e":1.15},{"x":-0.125,"y":0.9,"e":1.15},{"x":-0.1,"y":0.9,"e":1.15},{"x":-0.075,"y":0.9,"e":1.15},{"x":-0.05,"y":0.9,"e":1.15},{"x":-0.025,"y":0.9,"e":1.15},{"x":0,"y":0.9,"e":1.15},{"x":0.025,"y":0.9,"e":1.15},{"x":0.05,"y":0.9,"e":1.15},{"x":0.075,"y":0.9,"e":1.15},{"x":0.1,"y":0.9,"e":1.15},{"x":0.125,"y":0.9,"e":1.15},{"x":0.15,"y":0.9,"e":1.15},{"x":0.175,"y":0.9,"e":1.15},{"x":0.2,"y":0.9,"e":1.25},
{"x":-0.2,"y":0.925,"e":1.25},{"x":-0.175,"y":0.925,"e":1.25},{"x":-0.15,"y":0.925,"e":1.15},{"x":-0.125,"y":0.925,"e":1.15},{"x":-0.1,"y":0.925,"e":1.15},{"x":-0.075,"y":0.925,"e":1.15},{"x":-0.05,"y":0.925,"e":1.15},{"x":-0.025,"y":0.925,"e":1.15},{"x":0,"y":0.925,"e":1.15},{"x":0.025,"y":0.925,"e":1.15},{"x":0.05,"y":0.925,"e":1.15},{"x":0.075,"y":0.925,"e":1.15},{"x":0.1,"y":0.925,"e":1.15},{"x":0.125,"y":0.925,"e":1.15},{"x":0.15,"y":0.925,"e":1.15},{"x":0.175,"y":0.925,"e":1.25},{"x":0.2,"y":0.925,"e":1.25},
{"x":-0.2,"y":0.95,"e":1.35},{"x":-0.175,"y":0.95,"e":1.25},{"x":-0.15,"y":0.95,"e":1.25},{"x":-0.125,"y":0.95,"e":1.25},{"x":-0.1,"y":0.95,"e":1.15},{"x":-0.075,"y":0.95,"e":1.15},{"x":-0.05,"y":0.95,"e":1.15},{"x":-0.025,"y":0.95,"e":1.15},{"x":0,"y":0.95,"e":1.15},{"x":0.025,"y":0.95,"e":1.15},{"x":0.05,"y":0.95,"e":1.15},{"x":0.075,"y":0.95,"e":1.15},{"x":0.1,"y":0.95,"e":1.15},{"x":0.125,"y":0.95,"e":1.25},{"x":0.15,"y":0.95,"e":1.25},{"x":0.175,"y":0.95,"e":1.25},{"x":0.2,"y":0.95,"e":1.35},
{"x":-0.2,"y":0.975,"e":1.35},{"x":-0.175,"y":0.975,"e":1.35},{"x":-0.15,"y":0.975,"e":1.25},{"x":-0.125,"y":0.975,"e":1.25},{"x":-0.1,"y":0.975,"e":1.25},{"x":-0.075,"y":0.975,"e":1.15},{"x":-0.05,"y":0.975,"e":1.15},{"x":-0.025,"y":0.975,"e":1.15},{"x":0,"y":0.975,"e":1.15},{"x":0.025,"y":0.975,"e":1.15},{"x":0.05,"y":0.975,"e":1.15},{"x":0.075,"y":0.975,"e":1.15},{"x":0.1,"y":0.975,"e":1.25},{"x":0.125,"y":0.975,"e":1.25},{"x":0.15,"y":0.975,"e":1.25},{"x":0.175,"y":0.975,"e":1.35},{"x":0.2,"y":0.975,"e":1.35}
]},
"mark":{"type":"point","shape":"M0,0L0,2M-0.35,1.5L0,2L0.35,1.5","size":81,"filled":false,"strokeWidth":1,"opacity":1},
"encoding":{
"x":{"field":"x","type":"quantitative","scale":{"domain":[-0.6,0.6],"nice":false,"zero":false},"axis":{"orient":"bottom","values":[-0.6,-0.56,-0.52,-0.48,-0.44,-0.4,-0.36,-0.32,-0.28,-0.24,-0.2,-0.16,-0.12,-0.08,-0.04,0,0.04,0.08,0.12,0.16,0.2,0.24,0.28,0.32,0.36,0.4,0.44,0.48,0.52,0.56,0.6],"labelExpr":"abs(datum.value*5-round(datum.value*5))>0.001 ? '' : abs(datum.value)<0.001 ? '0.' : abs(datum.value-1)<0.001 ? '1.' : (datum.value<0 ? '-' : '') + format(abs(datum.value), '.1f')","tickSize":{"condition":{"test":"abs(datum.value*5-round(datum.value*5))<0.001","value":6},"value":3},"labelPadding":3,"title":"X","titlePadding":17}},
"y":{"field":"y","type":"quantitative","scale":{"domain":[-0.1,1.11],"nice":false,"zero":false},"axis":{"orient":"left","values":[-0.08,-0.04,0,0.04,0.08,0.12,0.16,0.2,0.24,0.28,0.32,0.36,0.4,0.44,0.48,0.52,0.56,0.6,0.64,0.68,0.72,0.76,0.8,0.84,0.88,0.92,0.96,1,1.04,1.08],"labelExpr":"abs(datum.value*5-round(datum.value*5))>0.001 ? '' : abs(datum.value)<0.001 ? '0.' : abs(datum.value-1)<0.001 ? '1.' : (datum.value<0 ? '-' : '') + format(abs(datum.value), '.1f')","tickSize":{"condition":{"test":"abs(datum.value*5-round(datum.value*5))<0.001","value":6},"value":3},"labelPadding":2,"title":"Y","titlePadding":27}},
"color":{"field":"e","type":"quantitative","scale":{"type":"threshold","domain":[0.4,0.5,0.6,0.7,0.8,0.9,1.0,1.1,1.2,1.3,1.4,1.5,1.6],"range":["#E000E0","#8800E0","#4800E0","#0030E8","#0078E8","#00B8E8","#00D0A0","#00D050","#40D000","#80D000","#C8D000","#E8A800","#E86800","#E82000"]},"legend":null}
}},
{"data":{"values":[
{"x":-0.475,"y":0.025,"e":0.35,"a":13},{"x":-0.45,"y":0.025,"e":0.45,"a":11},{"x":0.45,"y":0.025,"e":0.45,"a":-11},{"x":0.475,"y":0.025,"e":0.35,"a":-13},
{"x":-0.475,"y":0.05,"e":0.45,"a":13},{"x":-0.45,"y":0.05,"e":0.45,"a":11},{"x":0.45,"y":0.05,"e":0.45,"a":-11},{"x":0.475,"y":0.05,"e":0.45,"a":-13},
{"x":-0.475,"y":0.075,"e":0.45,"a":13},{"x":-0.45,"y":0.075,"e":0.45,"a":11},{"x":0.45,"y":0.075,"e":0.45,"a":-11},{"x":0.475,"y":0.075,"e":0.45,"a":-13},
{"x":-0.475,"y":0.1,"e":0.45,"a":13},{"x":-0.45,"y":0.1,"e":0.45,"a":11},{"x":0.425,"y":0.1,"e":0.55,"a":-11},{"x":0.45,"y":0.1,"e":0.45,"a":-13},
{"x":-0.45,"y":0.125,"e":0.45,"a":13},{"x":-0.425,"y":0.125,"e":0.55,"a":11},{"x":0.425,"y":0.125,"e":0.55,"a":-11},{"x":0.45,"y":0.125,"e":0.45,"a":-13},
{"x":-0.45,"y":0.15,"e":0.55,"a":13},{"x":-0.425,"y":0.15,"e":0.55,"a":11},{"x":0.425,"y":0.15,"e":0.55,"a":-11},{"x":0.45,"y":0.15,"e":0.55,"a":-13},
{"x":-0.45,"y":0.175,"e":0.55,"a":13},{"x":-0.425,"y":0.175,"e":0.55,"a":11},{"x":0.425,"y":0.175,"e":0.55,"a":-11},{"x":0.45,"y":0.175,"e":0.55,"a":-13},
{"x":-0.45,"y":0.2,"e":0.55,"a":13},{"x":-0.425,"y":0.2,"e":0.55,"a":11},{"x":0.4,"y":0.2,"e":0.55,"a":-11},{"x":0.425,"y":0.2,"e":0.55,"a":-13},
{"x":-0.425,"y":0.225,"e":0.55,"a":13},{"x":-0.4,"y":0.225,"e":0.65,"a":11},{"x":0.4,"y":0.225,"e":0.65,"a":-11},{"x":0.425,"y":0.225,"e":0.55,"a":-13},
{"x":-0.425,"y":0.25,"e":0.55,"a":13},{"x":-0.4,"y":0.25,"e":0.65,"a":11},{"x":0.4,"y":0.25,"e":0.65,"a":-11},{"x":0.425,"y":0.25,"e":0.55,"a":-13},
{"x":-0.425,"y":0.275,"e":0.65,"a":13},{"x":-0.4,"y":0.275,"e":0.65,"a":11},{"x":0.4,"y":0.275,"e":0.65,"a":-11},{"x":0.425,"y":0.275,"e":0.65,"a":-13},
{"x":-0.425,"y":0.3,"e":0.65,"a":13},{"x":-0.4,"y":0.3,"e":0.65,"a":11},{"x":0.375,"y":0.3,"e":0.65,"a":-11},{"x":0.4,"y":0.3,"e":0.65,"a":-13},
{"x":-0.4,"y":0.325,"e":0.65,"a":13},{"x":-0.375,"y":0.325,"e":0.65,"a":11},{"x":0.375,"y":0.325,"e":0.65,"a":-11},{"x":0.4,"y":0.325,"e":0.65,"a":-13},
{"x":-0.4,"y":0.35,"e":0.65,"a":13},{"x":-0.375,"y":0.35,"e":0.75,"a":11},{"x":0.375,"y":0.35,"e":0.75,"a":-11},{"x":0.4,"y":0.35,"e":0.65,"a":-13},
{"x":-0.4,"y":0.375,"e":0.75,"a":13},{"x":-0.375,"y":0.375,"e":0.75,"a":11},{"x":0.375,"y":0.375,"e":0.75,"a":-11},{"x":0.4,"y":0.375,"e":0.75,"a":-13},
{"x":-0.4,"y":0.4,"e":0.75,"a":13},{"x":-0.375,"y":0.4,"e":0.75,"a":11},{"x":0.35,"y":0.4,"e":0.75,"a":-11},{"x":0.375,"y":0.4,"e":0.75,"a":-13},
{"x":-0.375,"y":0.425,"e":0.75,"a":13},{"x":-0.35,"y":0.425,"e":0.75,"a":11},{"x":0.35,"y":0.425,"e":0.75,"a":-11},{"x":0.375,"y":0.425,"e":0.75,"a":-13},
{"x":-0.375,"y":0.45,"e":0.85,"a":13},{"x":-0.35,"y":0.45,"e":0.85,"a":11},{"x":0.35,"y":0.45,"e":0.85,"a":-11},{"x":0.375,"y":0.45,"e":0.85,"a":-13},
{"x":-0.375,"y":0.475,"e":0.85,"a":13},{"x":-0.35,"y":0.475,"e":0.85,"a":11},{"x":0.35,"y":0.475,"e":0.85,"a":-11},{"x":0.375,"y":0.475,"e":0.85,"a":-13},
{"x":-0.375,"y":0.5,"e":0.85,"a":13},{"x":-0.35,"y":0.5,"e":0.85,"a":11},{"x":0.325,"y":0.5,"e":0.85,"a":-11},{"x":0.35,"y":0.5,"e":0.85,"a":-13},
{"x":-0.35,"y":0.525,"e":0.85,"a":13},{"x":-0.325,"y":0.525,"e":0.85,"a":11},{"x":0.325,"y":0.525,"e":0.85,"a":-11},{"x":0.35,"y":0.525,"e":0.85,"a":-13},
{"x":-0.35,"y":0.55,"e":0.95,"a":13},{"x":-0.325,"y":0.55,"e":0.95,"a":11},{"x":0.325,"y":0.55,"e":0.95,"a":-11},{"x":0.35,"y":0.55,"e":0.95,"a":-13},
{"x":-0.35,"y":0.575,"e":0.95,"a":13},{"x":-0.325,"y":0.575,"e":0.95,"a":11},{"x":0.325,"y":0.575,"e":0.95,"a":-11},{"x":0.35,"y":0.575,"e":0.95,"a":-13},
{"x":-0.35,"y":0.6,"e":0.95,"a":13},{"x":-0.325,"y":0.6,"e":0.95,"a":11},{"x":0.3,"y":0.6,"e":0.95,"a":-11},{"x":0.325,"y":0.6,"e":0.95,"a":-13},
{"x":-0.325,"y":0.625,"e":0.95,"a":13},{"x":-0.3,"y":0.625,"e":0.95,"a":11},{"x":0.3,"y":0.625,"e":0.95,"a":-11},{"x":0.325,"y":0.625,"e":0.95,"a":-13},
{"x":-0.325,"y":0.65,"e":0.95,"a":13},{"x":-0.3,"y":0.65,"e":0.95,"a":11},{"x":0.3,"y":0.65,"e":0.95,"a":-11},{"x":0.325,"y":0.65,"e":0.95,"a":-13},
{"x":-0.325,"y":0.675,"e":1.05,"a":13},{"x":-0.3,"y":0.675,"e":1.05,"a":11},{"x":0.3,"y":0.675,"e":1.05,"a":-11},{"x":0.325,"y":0.675,"e":1.05,"a":-13},
{"x":-0.325,"y":0.7,"e":1.05,"a":13},{"x":-0.3,"y":0.7,"e":1.05,"a":11},{"x":0.275,"y":0.7,"e":1.05,"a":-11},{"x":0.3,"y":0.7,"e":1.05,"a":-13},
{"x":-0.3,"y":0.725,"e":1.05,"a":13},{"x":-0.275,"y":0.725,"e":1.05,"a":11},{"x":0.275,"y":0.725,"e":1.05,"a":-11},{"x":0.3,"y":0.725,"e":1.05,"a":-13},
{"x":-0.3,"y":0.75,"e":1.05,"a":13},{"x":-0.275,"y":0.75,"e":1.05,"a":11},{"x":0.275,"y":0.75,"e":1.05,"a":-11},{"x":0.3,"y":0.75,"e":1.05,"a":-13},
{"x":-0.3,"y":0.775,"e":1.15,"a":13},{"x":-0.275,"y":0.775,"e":1.05,"a":11},{"x":0.275,"y":0.775,"e":1.05,"a":-11},{"x":0.3,"y":0.775,"e":1.15,"a":-13},
{"x":-0.3,"y":0.8,"e":1.15,"a":13},{"x":-0.275,"y":0.8,"e":1.15,"a":11},{"x":0.25,"y":0.8,"e":1.15,"a":-11},{"x":0.275,"y":0.8,"e":1.15,"a":-13},
{"x":-0.275,"y":0.825,"e":1.15,"a":13},{"x":-0.25,"y":0.825,"e":1.15,"a":11},{"x":0.25,"y":0.825,"e":1.15,"a":-11},{"x":0.275,"y":0.825,"e":1.15,"a":-13},
{"x":-0.275,"y":0.85,"e":1.25,"a":13},{"x":-0.25,"y":0.85,"e":1.15,"a":11},{"x":0.25,"y":0.85,"e":1.15,"a":-11},{"x":0.275,"y":0.85,"e":1.25,"a":-13},
{"x":-0.275,"y":0.875,"e":1.25,"a":13},{"x":-0.25,"y":0.875,"e":1.25,"a":11},{"x":0.25,"y":0.875,"e":1.25,"a":-11},{"x":0.275,"y":0.875,"e":1.25,"a":-13},
{"x":-0.275,"y":0.9,"e":1.35,"a":13},{"x":-0.25,"y":0.9,"e":1.25,"a":11},{"x":0.225,"y":0.9,"e":1.25,"a":-11},{"x":0.25,"y":0.9,"e":1.25,"a":-13},
{"x":-0.25,"y":0.925,"e":1.35,"a":13},{"x":-0.225,"y":0.925,"e":1.25,"a":11},{"x":0.225,"y":0.925,"e":1.25,"a":-11},{"x":0.25,"y":0.925,"e":1.35,"a":-13},
{"x":-0.25,"y":0.95,"e":1.45,"a":13},{"x":-0.225,"y":0.95,"e":1.35,"a":11},{"x":0.225,"y":0.95,"e":1.35,"a":-11},{"x":0.25,"y":0.95,"e":1.45,"a":-13},
{"x":-0.25,"y":0.975,"e":1.45,"a":13},{"x":-0.225,"y":0.975,"e":1.45,"a":11},{"x":0.225,"y":0.975,"e":1.45,"a":-11},{"x":0.25,"y":0.975,"e":1.45,"a":-13}
]},
"mark":{"type":"point","shape":"M0,0L0,2M-0.35,1.5L0,2L0.35,1.5","size":81,"filled":false,"strokeWidth":1,"opacity":1},
"encoding":{
"x":{"field":"x","type":"quantitative","axis":null},
"y":{"field":"y","type":"quantitative","axis":null},
"angle":{"field":"a","type":"quantitative","scale":null},
"color":{"field":"e","type":"quantitative","scale":{"type":"threshold","domain":[0.4,0.5,0.6,0.7,0.8,0.9,1.0,1.1,1.2,1.3,1.4,1.5,1.6],"range":["#E000E0","#8800E0","#4800E0","#0030E8","#0078E8","#00B8E8","#00D0A0","#00D050","#40D000","#80D000","#C8D000","#E8A800","#E86800","#E82000"]},"legend":null}
}},
{"data":{"values":[{"x":-0.5,"y":0,"o":0},{"x":0.5,"y":0,"o":1},{"x":0.25,"y":1,"o":2},{"x":-0.25,"y":1,"o":3},{"x":-0.5,"y":0,"o":4}]},
"mark":{"type":"line","color":"black","strokeWidth":1},
"encoding":{
"x":{"field":"x","type":"quantitative","axis":{"orient":"top","values":[-0.6,-0.56,-0.52,-0.48,-0.44,-0.4,-0.36,-0.32,-0.28,-0.24,-0.2,-0.16,-0.12,-0.08,-0.04,0,0.04,0.08,0.12,0.16,0.2,0.24,0.28,0.32,0.36,0.4,0.44,0.48,0.52,0.56,0.6],"labels":false,"title":null,"tickSize":{"condition":{"test":"abs(datum.value*5-round(datum.value*5))<0.001","value":6},"value":3}}},
"y":{"field":"y","type":"quantitative","axis":{"orient":"right","values":[-0.08,-0.04,0,0.04,0.08,0.12,0.16,0.2,0.24,0.28,0.32,0.36,0.4,0.44,0.48,0.52,0.56,0.6,0.64,0.68,0.72,0.76,0.8,0.84,0.88,0.92,0.96,1,1.04,1.08],"labels":false,"title":null,"tickSize":{"condition":{"test":"abs(datum.value*5-round(datum.value*5))<0.001","value":6},"value":3}}},
"order":{"field":"o","type":"quantitative"}
}}
],
"resolve":{"axis":{"x":"independent","y":"independent"}}
},
{"title":{"text":["13:33:28 6/20/08","FlexPDE 5.0.22"],"anchor":"end","frame":"bounds","fontSize":18.5,"lineHeight":15,"offset":-22,"baseline":"bottom","dx":-2},
"bounds":"flush","spacing":23,
"vconcat":[
{"width":240,"height":37,"view":{"stroke":null},"title":{"text":"E","anchor":"start","offset":-47,"fontSize":15,"baseline":"alphabetic"},
"data":{"values":[{"v":0}]},"mark":{"type":"rule","color":"#777777","strokeWidth":1.5},
"encoding":{"y":{"field":"v","type":"quantitative","scale":{"domain":[0,1]},"axis":null}}},
{"width":29,"height":211,"view":{"stroke":null},
"data":{"values":[{"lo":0.3,"hi":0.4,"e":0.35},{"lo":0.4,"hi":0.5,"e":0.45},{"lo":0.5,"hi":0.6,"e":0.55},{"lo":0.6,"hi":0.7,"e":0.65},{"lo":0.7,"hi":0.8,"e":0.75},{"lo":0.8,"hi":0.9,"e":0.85},{"lo":0.9,"hi":1.0,"e":0.95},{"lo":1.0,"hi":1.1,"e":1.05},{"lo":1.1,"hi":1.2,"e":1.15},{"lo":1.2,"hi":1.3,"e":1.25},{"lo":1.3,"hi":1.4,"e":1.35},{"lo":1.4,"hi":1.5,"e":1.45},{"lo":1.5,"hi":1.6,"e":1.55},{"lo":1.6,"hi":1.7,"e":1.65}]},
"mark":{"type":"rect"},
"encoding":{
"y":{"field":"lo","type":"quantitative","scale":{"domain":[0.3,1.7],"nice":false,"zero":false},"axis":{"orient":"right","values":[0.3,0.4,0.5,0.6,0.7,0.8,0.9,1.0,1.1,1.2,1.3,1.4,1.5,1.6,1.7],"format":".2f","tickSize":16,"tickColor":"black","tickWidth":1,"domain":false,"labelPadding":46,"labelFont":"Liberation Serif","labelFontSize":15,"labelColor":"black","title":null,"grid":false}},
"y2":{"field":"hi"},
"color":{"field":"e","type":"quantitative","scale":{"type":"threshold","domain":[0.4,0.5,0.6,0.7,0.8,0.9,1.0,1.1,1.2,1.3,1.4,1.5,1.6],"range":["#E000E0","#8800E0","#4800E0","#0030E8","#0078E8","#00B8E8","#00D0A0","#00D050","#40D000","#80D000","#C8D000","#E8A800","#E86800","#E82000"]},"legend":null}
}}
]}
]
}
